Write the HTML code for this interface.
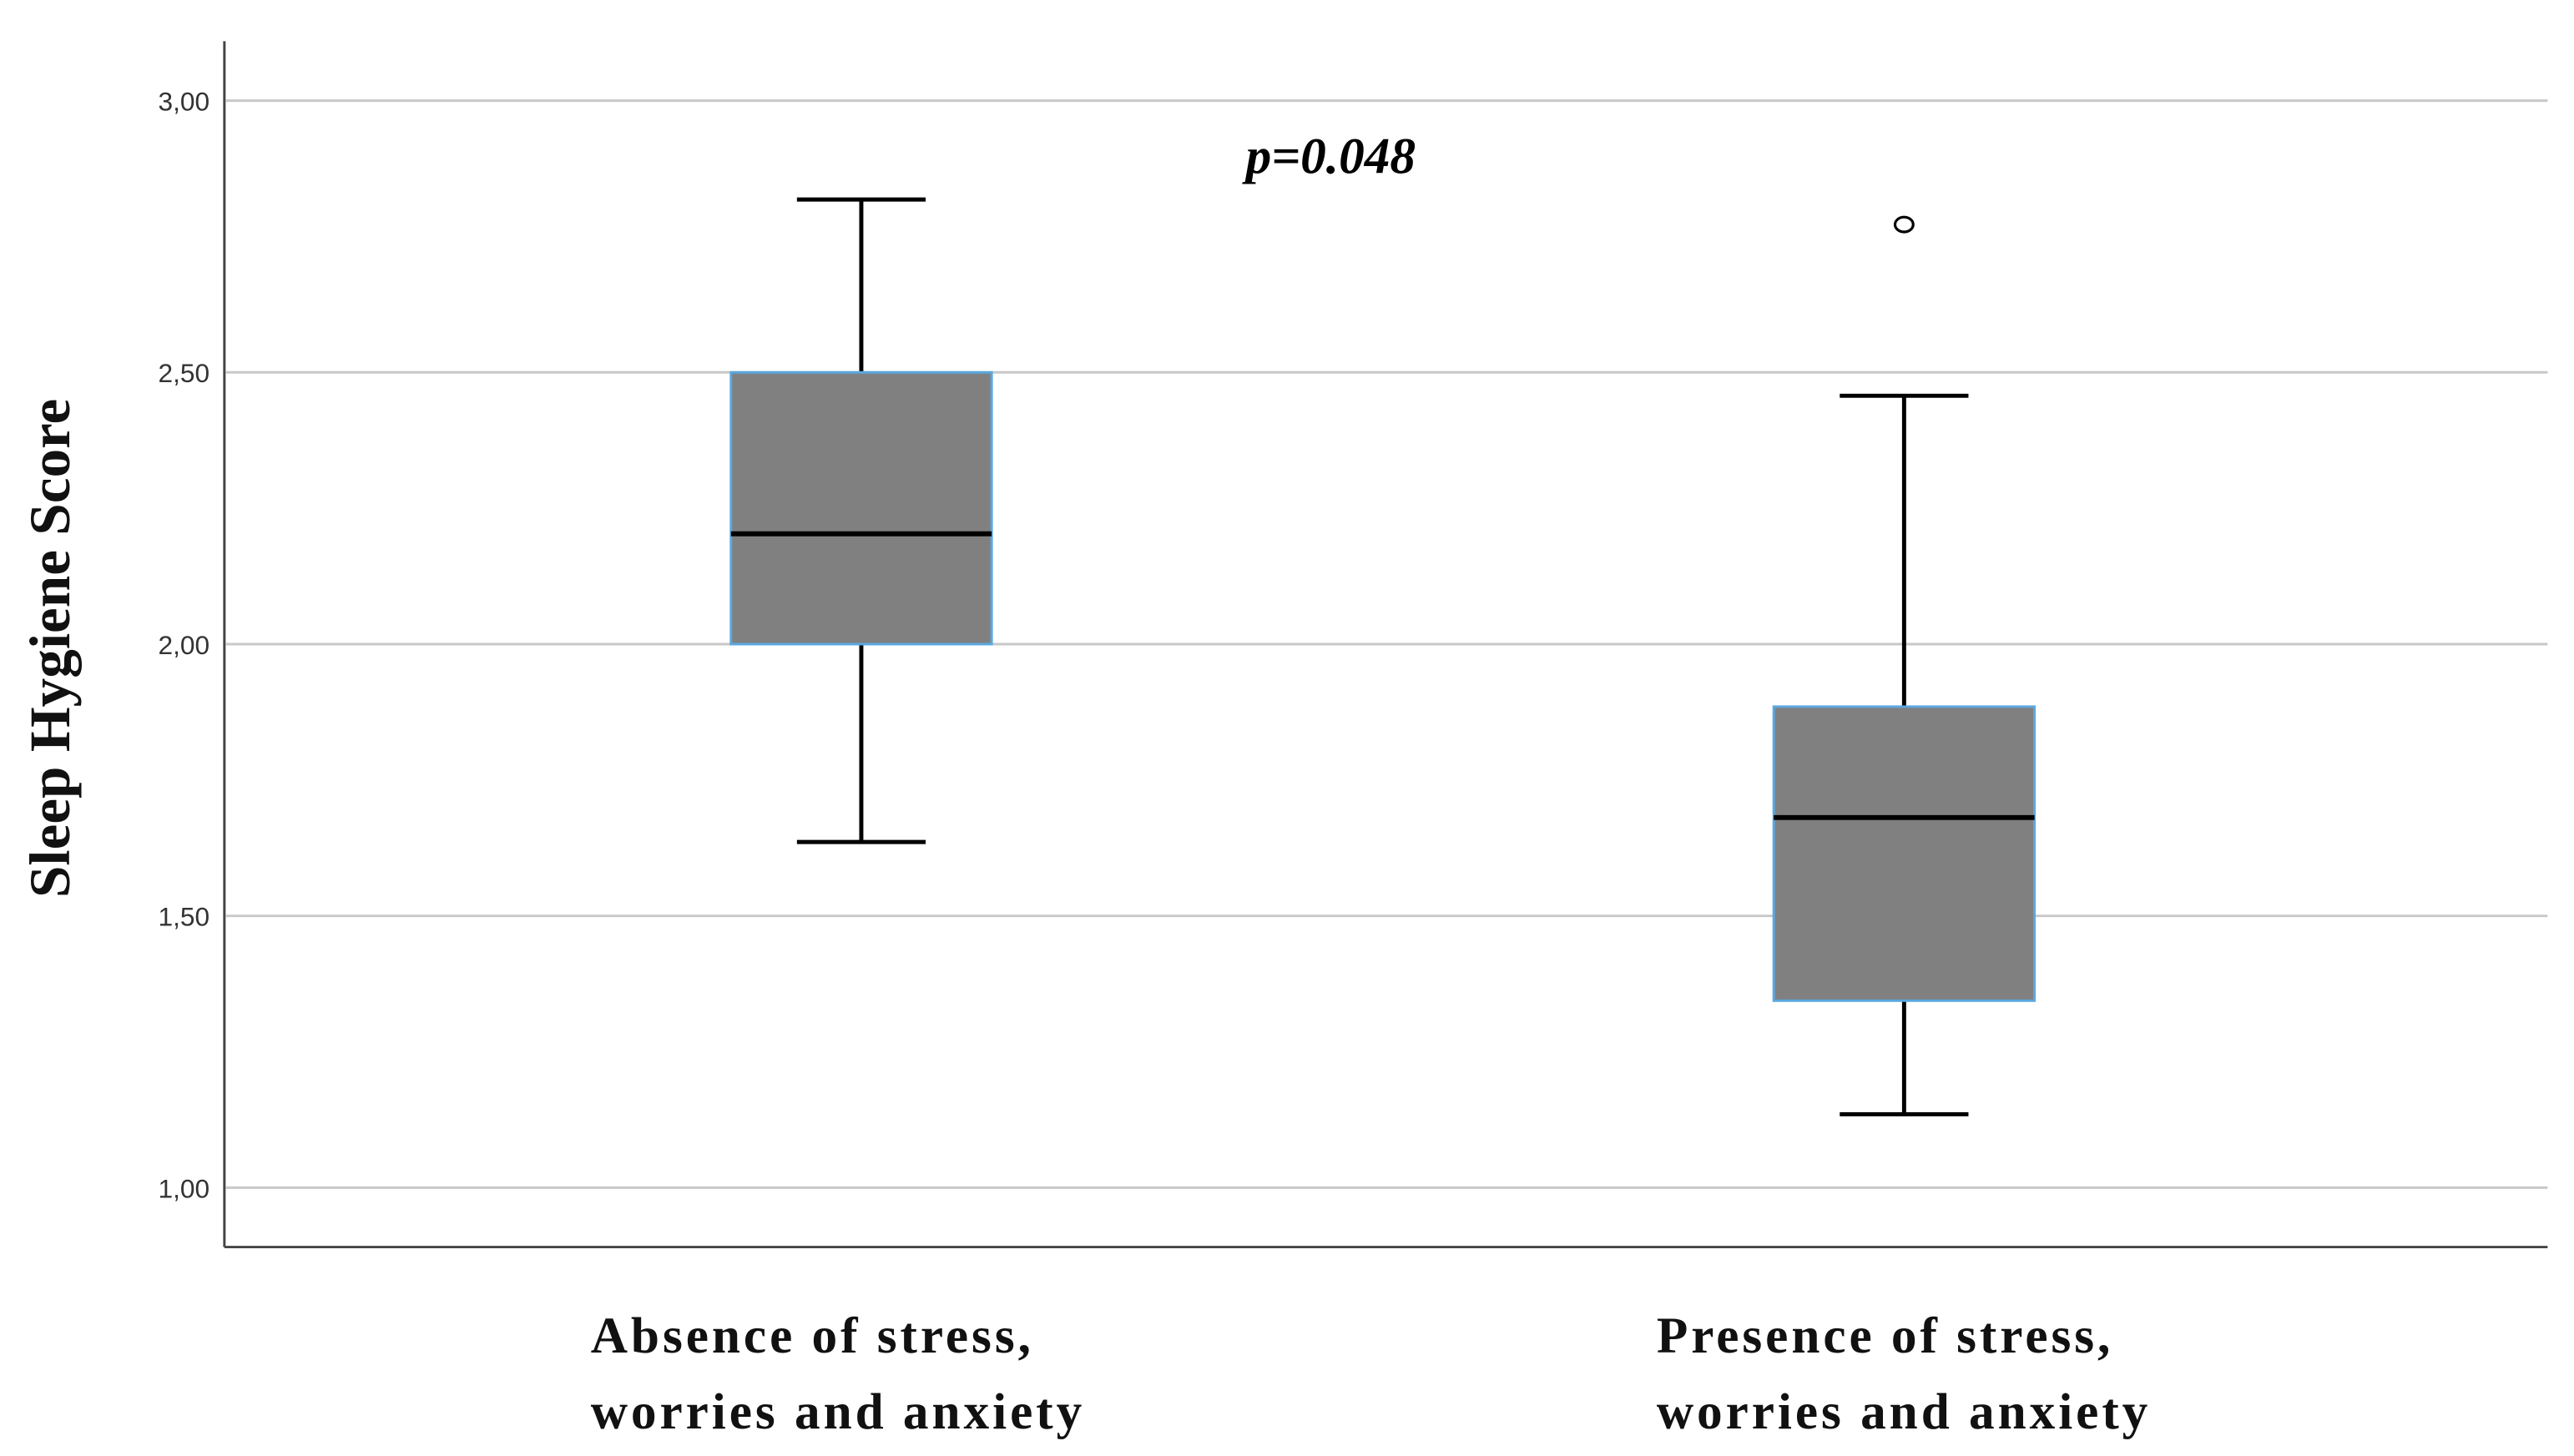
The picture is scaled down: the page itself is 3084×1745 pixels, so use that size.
<!DOCTYPE html>
<html><head><meta charset="utf-8"><style>
html,body{margin:0;padding:0;background:#fff;}
svg{display:block;}
</style></head><body>
<svg id="chart" width="3084" height="1745" viewBox="0 0 1560 882.68" preserveAspectRatio="none" xmlns="http://www.w3.org/2000/svg">
<g id="grid"></g>
<g id="yticks"></g>
<line x1="136" y1="25" x2="136" y2="756" stroke="#444" stroke-width="1.5"/>
<line x1="136" y1="756" x2="1544" y2="756" stroke="#444" stroke-width="1.5"/>
<g id="boxes"></g>
<text x="755" y="105" font-family="Liberation Serif, serif" font-style="italic" font-weight="bold" font-size="31">p=0.048</text>
<text transform="translate(42,393) rotate(-90)" text-anchor="middle" font-family="Liberation Serif, serif" font-weight="bold" font-size="35" fill="#111">Sleep Hygiene Score</text>
<g font-family="Liberation Serif, serif" font-weight="bold" font-size="31" fill="#111" letter-spacing="2">
<text x="358" y="820">Absence of stress,</text>
<text x="358" y="866">worries and anxiety</text>
<text x="1004" y="820">Presence of stress,</text>
<text x="1004" y="866">worries and anxiety</text>
</g>
</svg>
<script>
const categories = ["Absence", "Presence"];
const whiskerLow = [1.636, 1.135];
const q1 = [2.00, 1.344];
const median = [2.203, 1.681];
const q3 = [2.50, 1.885];
const whiskerHigh = [2.818, 2.457];
const outliers = [[], [2.772]];
const tickValues = [1.0, 1.5, 2.0, 2.5, 3.0];
const tickLabels = ["1,00", "1,50", "2,00", "2,50", "3,00"];

const NS = "http://www.w3.org/2000/svg";
function y(v){ return 720 - (v - 1.0) * 329.5; }
function x(i){ return 522 + i * 632; }
function mk(tag, attrs, parent){
  const e = document.createElementNS(NS, tag);
  for (const k in attrs) e.setAttribute(k, attrs[k]);
  parent.appendChild(e); return e;
}
const grid = document.getElementById('grid');
const yt = document.getElementById('yticks');
tickValues.forEach((v, i) => {
  const l = mk('line', {x1:137, x2:1544, y1:y(v), y2:y(v), stroke:'#c8c8c8', 'stroke-width':1.5}, grid);
  
  
  const t = mk('text', {x:127, y:y(v)+6, 'text-anchor':'end', 'font-family':'Liberation Sans, sans-serif', 'font-size':16, fill:'#333'}, yt);
  t.textContent = tickLabels[i];
  
  
});
const boxes = document.getElementById('boxes');
categories.forEach((c, i) => {
  const cx = x(i), hw = 79, cw = 39;
  const g = mk('g', {}, boxes);
  
  
  const s = {stroke:'#000', 'stroke-width':2.5};
  let e;
  e = mk('line', Object.assign({x1:cx, x2:cx, y1:y(whiskerHigh[i]), y2:y(q3[i])}, s), g);
   
  e = mk('line', Object.assign({x1:cx, x2:cx, y1:y(q1[i]), y2:y(whiskerLow[i])}, s), g);
   
  e = mk('line', Object.assign({x1:cx-cw, x2:cx+cw, y1:y(whiskerHigh[i]), y2:y(whiskerHigh[i])}, s), g);
   
  e = mk('line', Object.assign({x1:cx-cw, x2:cx+cw, y1:y(whiskerLow[i]), y2:y(whiskerLow[i])}, s), g);
   
  e = mk('rect', {x:cx-hw, width:2*hw, y:y(q3[i]), height:y(q1[i])-y(q3[i]), fill:'#808080', stroke:'#5aa8e0', 'stroke-width':1.5}, g);
   
  e = mk('line', {x1:cx-hw, x2:cx+hw, y1:y(median[i]), y2:y(median[i]), stroke:'#000', 'stroke-width':3}, g);
   
  outliers[i].forEach(o => {
    const p = mk('ellipse', {cx:cx, cy:y(o), rx:5.5, ry:4.5, fill:'none', stroke:'#000', 'stroke-width':1.6}, g);
    
    
  });
});
</script>
</body></html>
